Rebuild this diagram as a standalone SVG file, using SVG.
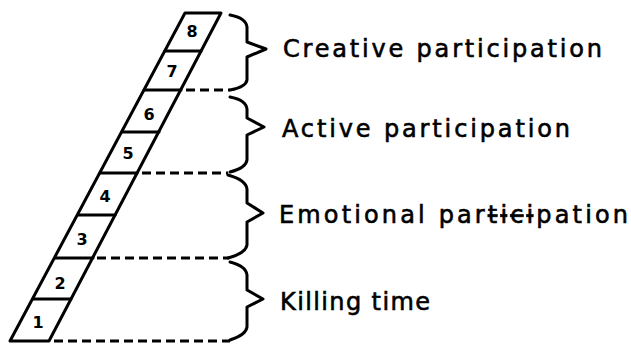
<svg xmlns="http://www.w3.org/2000/svg" width="631" height="346" viewBox="0 0 631 346">
<style>
.edge{fill:none;stroke:#000;stroke-width:3;stroke-linejoin:round;stroke-linecap:round}
.dash{fill:none;stroke:#000;stroke-width:3;stroke-dasharray:9 5}
.brace{fill:none;stroke:#000;stroke-width:3;stroke-linejoin:round;stroke-linecap:round}
.num{font-family:"DejaVu Sans","Liberation Sans",sans-serif;font-weight:bold;font-size:16px;text-anchor:middle;fill:#000}
.lbl{font-family:"DejaVu Sans","Liberation Sans",sans-serif;font-size:24px;fill:#000;stroke:#000;stroke-width:0.6}
</style>
<rect width="631" height="346" fill="#fff"/>
<g id="ladder">
<polygon class="edge" points="185,13 221,13 49,341 10,341"/>
<line class="edge" x1="165" y1="51" x2="201" y2="51"/>
<line class="edge" x1="144" y1="90" x2="181" y2="90"/>
<line class="edge" x1="122" y1="132" x2="159" y2="132"/>
<line class="edge" x1="100" y1="173" x2="137" y2="173"/>
<line class="edge" x1="78" y1="215" x2="115" y2="215"/>
<line class="edge" x1="55" y1="258" x2="93" y2="258"/>
<line class="edge" x1="33" y1="299" x2="71" y2="299"/>
</g>
<g id="numbers">
<text class="num" x="192" y="37">8</text>
<text class="num" x="172" y="77">7</text>
<text class="num" x="149" y="120">6</text>
<text class="num" x="128" y="159">5</text>
<text class="num" x="105" y="202">4</text>
<text class="num" x="82" y="245">3</text>
<text class="num" x="60" y="289">2</text>
<text class="num" x="38" y="328">1</text>
</g>
<g id="connectors">
<line class="dash" x1="186" y1="90" x2="230" y2="90"/>
<line class="dash" x1="142" y1="173" x2="228" y2="173"/>
<line class="dash" x1="97" y1="258" x2="229" y2="258"/>
<line class="dash" x1="54" y1="341" x2="230" y2="341"/>
</g>
<g id="brace1">
<path class="brace" d="M230,15 Q246,18 247,27 L247,42 L266,49 L247,57 L247,80 Q246,87 230,90"/>
</g>
<g id="brace2">
<path class="brace" d="M230,97 Q246,100 247,109 L247,118 L264,127 L247,135 L247,160 Q246,168 230,172"/>
</g>
<g id="brace3">
<path class="brace" d="M228,175 Q246,180 247,189 L247,203 L263,213 L247,222 L247,245 Q246,253 228,258"/>
</g>
<g id="brace4">
<path class="brace" d="M230,262 Q246,266 247,275 L247,290 L263,299 L247,307 L247,327 Q246,335 230,340"/>
</g>
<g id="labels">
<text class="lbl" x="283" y="57" textLength="319" lengthAdjust="spacing">Creative participation</text>
<text class="lbl" x="282" y="137" textLength="288" lengthAdjust="spacing">Active participation</text>
<text class="lbl" x="279" y="223" textLength="349" lengthAdjust="spacing">Emotional par<tspan text-decoration="line-through">tici</tspan>pation</text>
<text class="lbl" x="280" y="310" textLength="150" lengthAdjust="spacing">Killing time</text>
</g>
</svg>
